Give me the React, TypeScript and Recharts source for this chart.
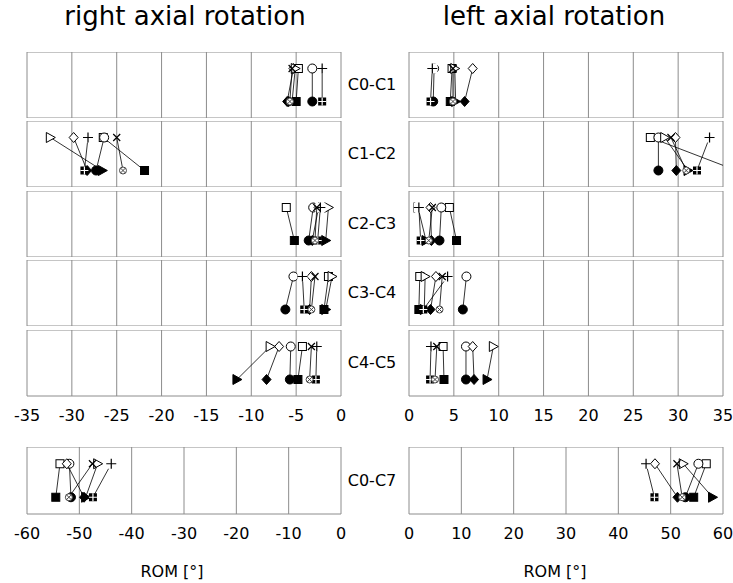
import React from 'react'
import { ScatterChart, Scatter, XAxis, YAxis, CartesianGrid } from 'recharts'

// specimen markers, same order in every value array below
const MARKERS = ['square', 'circle', 'diamond', 'triangle', 'plus', 'cross']
const SEGMENTS = ['C0-C1', 'C1-C2', 'C2-C3', 'C3-C4', 'C4-C5']

const RIGHT_TICKS = [-35, -30, -25, -20, -15, -10, -5, 0]
const LEFT_TICKS = [0, 5, 10, 15, 20, 25, 30, 35]
const RIGHT_TOTAL_TICKS = [-60, -50, -40, -30, -20, -10, 0]
const LEFT_TOTAL_TICKS = [0, 10, 20, 30, 40, 50, 60]

// right axial rotation (open = first state, filled = second state)
const R_C0C1_OPEN = [-4.75, -3.2, -5.3, -5.1, -2.1, -5.45]
const R_C0C1_FILLED = [-5.0, -3.2, -6.0, -5.45, -2.1, -5.7]
const R_C1C2_OPEN = [-26.5, -26.4, -29.8, -32.4, -28.2, -25.0]
const R_C1C2_FILLED = [-21.9, -27.3, -28.3, -26.6, -28.6, -24.3]
const R_C2C3_OPEN = [-6.1, -3.1, -2.5, -1.4, -2.3, -2.7]
const R_C2C3_FILLED = [-5.2, -3.6, -3.2, -1.7, -2.6, -2.9]
const R_C3C4_OPEN = [-1.4, -5.3, -3.3, -1.0, -4.3, -2.9]
const R_C3C4_FILLED = [-1.9, -6.2, -3.5, -1.7, -4.1, -3.3]
const R_C4C5_OPEN = [-4.3, -5.6, -6.9, -7.9, -2.7, -3.3]
const R_C4C5_FILLED = [-4.8, -5.7, -8.3, -11.6, -2.8, -3.5]
const R_C0C7_OPEN = [-53.7, -51.9, -52.4, -46.5, -43.9, -47.5]
const R_C0C7_FILLED = [-54.5, -51.6, -49.1, -48.8, -47.4, -52.0]

// left axial rotation
const L_C0C1_OPEN = [4.8, 2.8, 7.1, 5.1, 2.6, 4.9]
const L_C0C1_FILLED = [4.6, 2.7, 6.2, 5.2, 2.4, 4.9]
const L_C1C2_OPEN = [26.9, 27.8, 29.7, 28.5, 33.5, 29.2]
const L_C1C2_FILLED = [36.5, 27.8, 29.8, 31.1, 32.1, 30.9]
const L_C2C3_OPEN = [4.5, 3.6, 2.4, 1.0, 1.1, 2.6]
const L_C2C3_FILLED = [5.3, 3.4, 2.5, 1.9, 1.3, 2.2]
const L_C3C4_OPEN = [1.2, 6.4, 3.0, 1.8, 4.3, 3.7]
const L_C3C4_FILLED = [1.1, 6.0, 2.4, 1.7, 1.6, 3.4]
const L_C4C5_OPEN = [3.8, 6.35, 7.1, 9.4, 2.45, 3.1]
const L_C4C5_FILLED = [3.9, 6.35, 7.25, 8.7, 2.35, 2.9]
const L_C0C7_OPEN = [56.8, 55.3, 47.0, 52.4, 45.3, 51.2]
const L_C0C7_FILLED = [54.4, 52.8, 51.3, 58.0, 46.9, 52.2]

const RIGHT_OPEN = [R_C0C1_OPEN, R_C1C2_OPEN, R_C2C3_OPEN, R_C3C4_OPEN, R_C4C5_OPEN]
const RIGHT_FILLED = [R_C0C1_FILLED, R_C1C2_FILLED, R_C2C3_FILLED, R_C3C4_FILLED, R_C4C5_FILLED]
const LEFT_OPEN = [L_C0C1_OPEN, L_C1C2_OPEN, L_C2C3_OPEN, L_C3C4_OPEN, L_C4C5_OPEN]
const LEFT_FILLED = [L_C0C1_FILLED, L_C1C2_FILLED, L_C2C3_FILLED, L_C3C4_FILLED, L_C4C5_FILLED]

const FONT = '"DejaVu Sans", Verdana, sans-serif'
const GRID = '#8c8c8c'
const PAD = 20
const PLOT_W = 314
const RIGHT_X = 27
const LEFT_X = 409
const ROW_TOPS = [52, 121, 191, 260, 330]
const ROW_H = 66
const TOTAL_TOP = 447
const TOTAL_H = 67
const AXIS_H = 36

// eslint-disable-next-line @typescript-eslint/no-explicit-any
function Marker(props: any) {
  const { cx, cy, payload } = props
  if (cx == null || cy == null) return null
  const f = payload.f
  const fill = f ? '#000' : '#fff'
  const s = 4
  switch (payload.m) {
    case 'square':
      return <rect x={cx - s} y={cy - s} width={2 * s} height={2 * s} fill={fill} stroke="#000" strokeWidth={1} />
    case 'circle':
      return <circle cx={cx} cy={cy} r={s + 0.5} fill={fill} stroke="#000" strokeWidth={1} />
    case 'diamond':
      return (
        <polygon
          points={`${cx},${cy - 5} ${cx + 4.5},${cy} ${cx},${cy + 5} ${cx - 4.5},${cy}`}
          fill={fill}
          stroke="#000"
          strokeWidth={1}
        />
      )
    case 'triangle':
      return (
        <polygon
          points={`${cx - 4},${cy - 5} ${cx + 5},${cy} ${cx - 4},${cy + 5}`}
          fill={fill}
          stroke="#000"
          strokeWidth={1}
        />
      )
    case 'plus':
      if (f) {
        return (
          <g>
            <rect x={cx - s} y={cy - s} width={2 * s} height={2 * s} fill="#000" />
            <path d={`M${cx - s} ${cy}H${cx + s}M${cx} ${cy - s}V${cy + s}`} stroke="#fff" strokeWidth={1.2} />
          </g>
        )
      }
      return (
        <g>
          <rect x={cx - 5} y={cy - 5} width={10} height={10} fill="#fff" />
          <path d={`M${cx - 5} ${cy}H${cx + 5}M${cx} ${cy - 5}V${cy + 5}`} stroke="#000" strokeWidth={1.2} />
        </g>
      )
    case 'cross':
      if (f) {
        return (
          <g>
            <circle cx={cx} cy={cy} r={3.5} fill="#fff" stroke="#444" strokeWidth={1} />
            <path d={`M${cx - 2.5} ${cy - 2.5}L${cx + 2.5} ${cy + 2.5}M${cx - 2.5} ${cy + 2.5}L${cx + 2.5} ${cy - 2.5}`} stroke="#444" strokeWidth={1} />
          </g>
        )
      }
      return (
        <path
          d={`M${cx - 3.5} ${cy - 3.5}L${cx + 3.5} ${cy + 3.5}M${cx - 3.5} ${cy + 3.5}L${cx + 3.5} ${cy - 3.5}`}
          stroke="#000"
          strokeWidth={1.2}
        />
      )
    default:
      return null
  }
}

interface PanelProps {
  left: number
  top: number
  height: number
  open: number[]
  filled: number[]
  ticks: number[]
  withAxis?: boolean
}

function Panel({ left, top, height, open, filled, ticks, withAxis = false }: PanelProps) {
  const domain = [ticks[0], ticks[ticks.length - 1]]
  return (
    <div style={{ position: 'absolute', left: left - PAD, top }}>
      <ScatterChart
        width={PLOT_W + 2 * PAD}
        height={height + (withAxis ? AXIS_H : 0)}
        margin={{ top: 0, right: PAD, bottom: 0, left: PAD }}
      >
        <CartesianGrid stroke={GRID} strokeWidth={1} />
        <XAxis
          type="number"
          dataKey="x"
          domain={domain}
          ticks={ticks}
          interval={0}
          allowDataOverflow
          hide={!withAxis}
          height={AXIS_H}
          axisLine={false}
          tickLine={false}
          tickSize={0}
          tickMargin={14}
          tick={{ fill: '#000', fontSize: 16, fontFamily: FONT }}
        />
        <YAxis type="number" dataKey="y" domain={[0, 4]} ticks={[0, 4]} hide />
        {MARKERS.map((m, i) => (
          <Scatter
            key={m}
            data={[
              { x: open[i], y: 3, m, f: false },
              { x: filled[i], y: 1, m, f: true },
            ]}
            line={{ stroke: '#000', strokeWidth: 0.8 }}
            lineType="joint"
            shape={Marker}
            isAnimationActive={false}
          />
        ))}
      </ScatterChart>
    </div>
  )
}

function Label({ x, y, text, size = 16 }: { x: number; y: number; text: string; size?: number }) {
  return (
    <div
      style={{
        position: 'absolute',
        left: x - 150,
        top: y - 20,
        width: 300,
        height: 40,
        lineHeight: '40px',
        textAlign: 'center',
        fontFamily: FONT,
        fontSize: size,
        color: '#000',
        whiteSpace: 'nowrap',
      }}
    >
      {text}
    </div>
  )
}

export default function App() {
  return (
    <div style={{ position: 'absolute', left: 0, top: 0, width: 733, height: 583, background: '#fff', overflow: 'hidden' }}>
      <Label x={185} y={16} text="right axial rotation" size={26} />
      <Label x={554} y={16} text="left axial rotation" size={26} />

      {SEGMENTS.map((seg, i) => (
        <React.Fragment key={seg}>
          <Panel
            left={RIGHT_X}
            top={ROW_TOPS[i]}
            height={ROW_H}
            open={RIGHT_OPEN[i]}
            filled={RIGHT_FILLED[i]}
            ticks={RIGHT_TICKS}
            withAxis={i === SEGMENTS.length - 1}
          />
          <Panel
            left={LEFT_X}
            top={ROW_TOPS[i]}
            height={ROW_H}
            open={LEFT_OPEN[i]}
            filled={LEFT_FILLED[i]}
            ticks={LEFT_TICKS}
            withAxis={i === SEGMENTS.length - 1}
          />
          <Label x={372} y={ROW_TOPS[i] + ROW_H / 2} text={seg} />
        </React.Fragment>
      ))}

      <Panel left={RIGHT_X} top={TOTAL_TOP} height={TOTAL_H} open={R_C0C7_OPEN} filled={R_C0C7_FILLED} ticks={RIGHT_TOTAL_TICKS} withAxis />
      <Panel left={LEFT_X} top={TOTAL_TOP} height={TOTAL_H} open={L_C0C7_OPEN} filled={L_C0C7_FILLED} ticks={LEFT_TOTAL_TICKS} withAxis />
      <Label x={372} y={TOTAL_TOP + TOTAL_H / 2} text="C0-C7" />

      <Label x={172} y={572} text="ROM [°]" />
      <Label x={555} y={572} text="ROM [°]" />
    </div>
  )
}
